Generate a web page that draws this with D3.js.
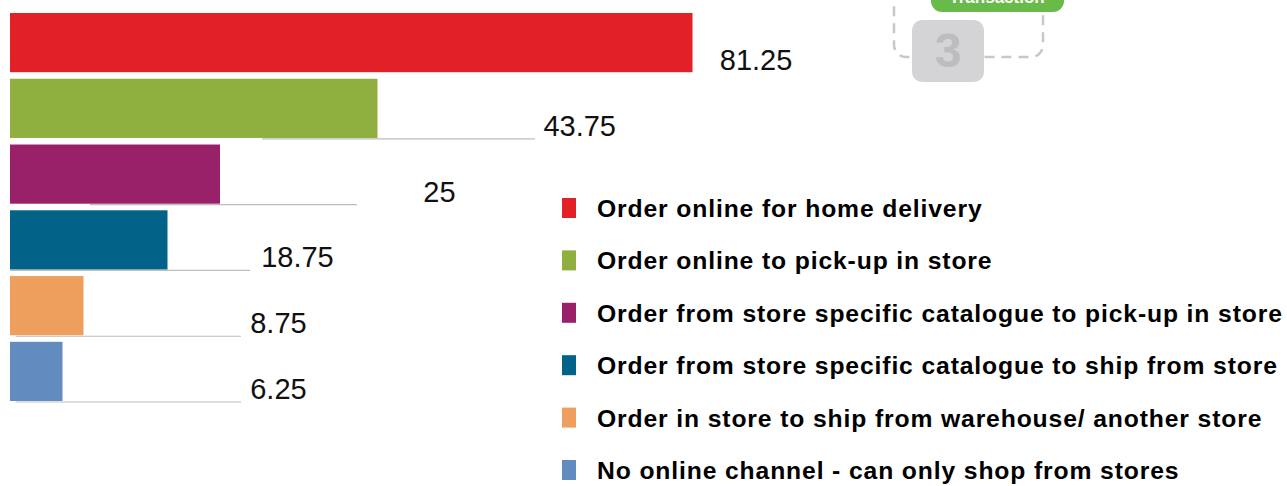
<!DOCTYPE html>
<html>
<head>
<meta charset="utf-8">
<script src="https://cdn.jsdelivr.net/npm/d3@7"></script>
<style>
  body { margin: 0; background: #fff; }
  svg { display: block; }
</style>
</head>
<body>
<script>
// horizontal bar chart + legend
var w = 1287;
var h = 486;

// data
var categories = [
  "Order online for home delivery",
  "Order online to pick-up in store",
  "Order from store specific catalogue to pick-up in store",
  "Order from store specific catalogue to ship from store",
  "Order in store to ship from warehouse/ another store",
  "No online channel - can only shop from stores"
];
var values = [81.25, 43.75, 25, 18.75, 8.75, 6.25];
var colors = ["#e12028", "#8fb03e", "#99216a", "#036287", "#ef9f5d", "#628bc0"];

// label anchor + grey baseline extent, in value units
var labelAt   = [84.5, 63.5, 49.2, 29.9, 28.6, 28.6];
var lineStart = [null, 30, 9.5, 0, 0.7, 0.7];
var lineEnd   = [null, 62.5, 41.3, 28.6, 27.5, 27.5];

var svg = d3.select("body").append("svg")
  .attr("width", w)
  .attr("height", h);

// scales
var x = d3.scaleLinear().domain([0, 100]).range([10, 850]);
var y = d3.scaleBand().domain(d3.range(values.length)).range([13, 401]).paddingInner(0.1).paddingOuter(0);
var ly = d3.scalePoint().domain(d3.range(categories.length)).range([208, 470]);

// decoration top right (dashed box, green pill, grey "3")
var deco = svg.append("g");
deco.append("rect")
  .attr("x", 894).attr("y", -40).attr("width", 149).attr("height", 97)
  .attr("rx", 12)
  .attr("fill", "none").attr("stroke", "#c8c8c8").attr("stroke-width", 2.5)
  .attr("stroke-dasharray", "10,7");
deco.append("rect")
  .attr("x", 931).attr("y", -30).attr("width", 133).attr("height", 42)
  .attr("rx", 11).attr("fill", "#68bb48");
deco.append("text")
  .attr("x", 997).attr("y", 3)
  .attr("text-anchor", "middle")
  .attr("font-family", "Liberation Sans, Arial, sans-serif")
  .attr("font-weight", "bold").attr("font-size", "17px")
  .attr("fill", "#fff")
  .text("Transaction");
deco.append("rect")
  .attr("x", 912).attr("y", 20).attr("width", 72).attr("height", 62)
  .attr("rx", 10).attr("fill", "#d4d3d5");
deco.append("text")
  .attr("x", 948).attr("y", 67)
  .attr("text-anchor", "middle")
  .attr("font-family", "Liberation Sans, Arial, sans-serif")
  .attr("font-weight", "bold").attr("font-size", "48px")
  .attr("fill", "#bdbcbe")
  .text("3");

// grey baselines under the bars
svg.selectAll("line.base")
  .data(values.map(function(v, i){ return i; }).filter(function(i){ return lineStart[i] !== null; }))
  .enter()
  .append("line")
  .attr("class", "base")
  .attr("x1", function(i){ return x(lineStart[i]); })
  .attr("x2", function(i){ return x(lineEnd[i]); })
  .attr("y1", function(i){ return y(i) + y.bandwidth() + 1; })
  .attr("y2", function(i){ return y(i) + y.bandwidth() + 1; })
  .attr("stroke", "#bdbdbd")
  .attr("stroke-width", 1.2);

// bars
svg.selectAll("rect.bar")
  .data(values)
  .enter()
  .append("rect")
  .attr("class", "bar")
  .attr("x", x(0))
  .attr("y", function(d, i){ return y(i); })
  .attr("width", function(d){ return x(d) - x(0); })
  .attr("height", y.bandwidth())
  .attr("fill", function(d, i){ return colors[i]; });

// value labels
svg.selectAll("text.val")
  .data(values)
  .enter()
  .append("text")
  .attr("class", "val")
  .attr("x", function(d, i){ return x(labelAt[i]); })
  .attr("y", function(d, i){ return y(i) + y.bandwidth() - 2; })
  .attr("font-family", "Liberation Sans, Arial, sans-serif")
  .attr("font-size", "29px")
  .attr("fill", "#111")
  .text(function(d){ return d; });

// legend
var legend = svg.selectAll("g.leg")
  .data(categories)
  .enter()
  .append("g")
  .attr("class", "leg")
  .attr("transform", function(d, i){ return "translate(0," + ly(i) + ")"; });

legend.append("rect")
  .attr("x", 562).attr("y", -10)
  .attr("width", 14).attr("height", 20)
  .attr("fill", function(d, i){ return colors[i]; });

legend.append("text")
  .attr("x", 597).attr("y", 9)
  .attr("font-family", "Liberation Sans, Arial, sans-serif")
  .attr("font-weight", "bold")
  .attr("font-size", "24.7px")
  .attr("letter-spacing", "0.87px")
  .attr("fill", "#000")
  .text(function(d){ return d; });
</script>
</body>
</html>
